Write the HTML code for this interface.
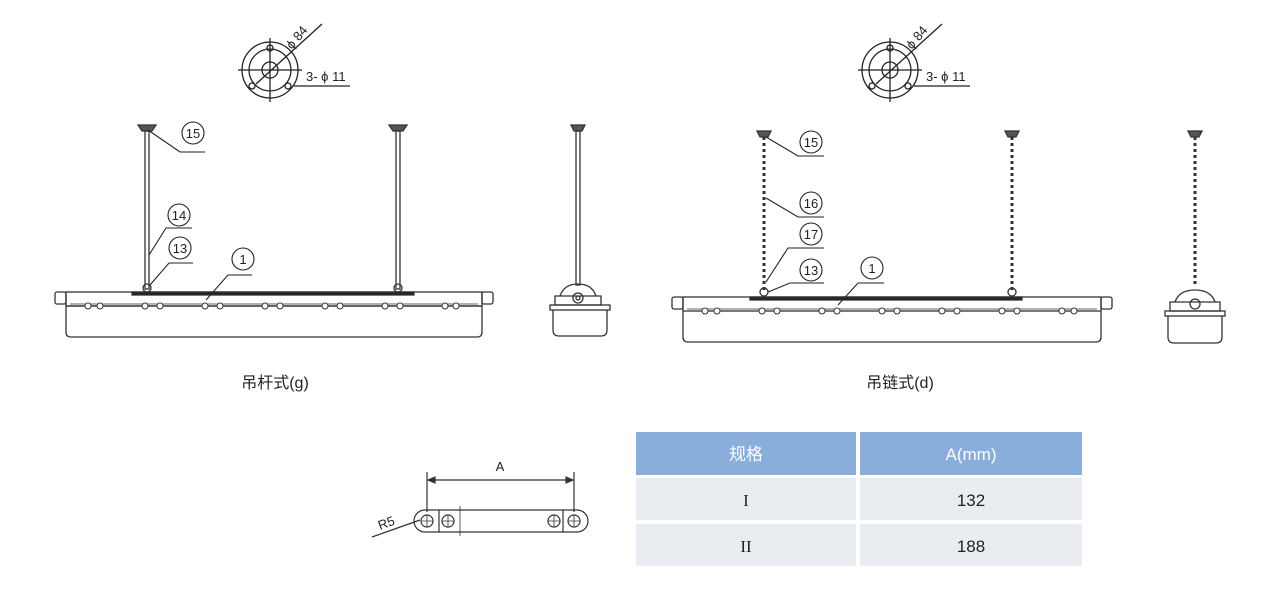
<!DOCTYPE html>
<html><head><meta charset="utf-8"><style>
body{margin:0;background:#fff;width:1280px;height:588px;overflow:hidden;font-family:"Liberation Sans","Noto Sans CJK SC",sans-serif}
</style></head><body>
<svg width="1280" height="588" viewBox="0 0 1280 588" xmlns="http://www.w3.org/2000/svg" font-family="Liberation Sans, Noto Sans CJK SC, sans-serif">
<defs>
<g id="flange" stroke="#222" fill="none" stroke-width="1.3">
  <circle r="28"/><circle r="21"/><circle r="8"/>
  <line x1="-32" y1="0" x2="32" y2="0"/><line x1="0" y1="-32" x2="0" y2="32"/>
  <circle cx="-18" cy="16" r="3"/><circle cx="18" cy="16" r="3"/><circle cx="0" cy="-22" r="3"/>
  <line x1="-14" y1="14" x2="52" y2="-46"/>
  <line x1="24" y1="16" x2="80" y2="16"/>
  <text x="36" y="11" font-size="13" fill="#222" stroke="none">3- ϕ 11</text>
  <text transform="translate(22,-20) rotate(-50)" font-size="13" fill="#222" stroke="none">ϕ 84</text>
</g>
<g id="lbl" stroke="#222" fill="none" stroke-width="1.2">
  <circle r="11"/>
</g>
</defs>

<!-- flanges -->
<use href="#flange" x="270" y="70"/>
<use href="#flange" x="890" y="70"/>

<!-- LEFT FIXTURE -->
<g stroke="#333" fill="none" stroke-width="1.3">
  <path d="M138 125h18l-4 6h-10z" fill="#555"/>
  <rect x="145" y="131" width="4" height="158"/>
  <path d="M389 125h18l-4 6h-10z" fill="#555"/>
  <rect x="396" y="131" width="4" height="158"/>
  <circle cx="147" cy="288" r="4"/><circle cx="398" cy="288" r="4"/>
  <rect x="132" y="292" width="282" height="3" fill="#222"/>
  <rect x="66" y="292" width="416" height="14"/>
  <rect x="55" y="292" width="11" height="12" rx="2"/><rect x="482" y="292" width="11" height="12" rx="2"/>
  <path d="M66 306v26q0 5 5 5h406q5 0 5-5v-26"/>
  <line x1="66" y1="306" x2="482" y2="306"/>
  <line x1="70" y1="304" x2="478" y2="304" stroke-width="0.8"/>
</g>
<g fill="#fff" stroke="#333" stroke-width="1">
  <circle cx="88" cy="306" r="3"/><circle cx="100" cy="306" r="3"/><circle cx="145" cy="306" r="3"/><circle cx="160" cy="306" r="3"/>
  <circle cx="205" cy="306" r="3"/><circle cx="220" cy="306" r="3"/><circle cx="265" cy="306" r="3"/><circle cx="280" cy="306" r="3"/>
  <circle cx="325" cy="306" r="3"/><circle cx="340" cy="306" r="3"/><circle cx="385" cy="306" r="3"/><circle cx="400" cy="306" r="3"/>
  <circle cx="445" cy="306" r="3"/><circle cx="456" cy="306" r="3"/>
</g>
<!-- left labels -->
<g stroke="#222" fill="none" stroke-width="1.1">
  <circle cx="193" cy="133" r="11"/><path d="M148 130L180 152H205"/>
  <circle cx="179" cy="215" r="11"/><path d="M149 255L166 228H192"/>
  <circle cx="180" cy="248" r="11"/><path d="M150 285L169 263H193"/>
  <circle cx="243" cy="259" r="11"/><path d="M206 300L228 275H252"/>
</g>
<g font-size="13" text-anchor="middle" fill="#222">
  <text x="193" y="138">15</text><text x="179" y="220">14</text><text x="180" y="253">13</text><text x="243" y="264">1</text>
</g>
<!-- left side view -->
<g stroke="#333" fill="none" stroke-width="1.3">
  <path d="M571 125h14l-3 6h-8z" fill="#555"/>
  <rect x="576" y="131" width="4" height="154"/>
  <path d="M560 296q4-12 18-12q14 0 18 12"/>
  <path d="M555 296h46v9h-46z"/>
  <rect x="550" y="305" width="60" height="5"/>
  <path d="M553 310v20q0 6 6 6h42q6 0 6-6v-20"/>
  <circle cx="578" cy="298" r="5"/><circle cx="578" cy="298" r="2"/>
</g>
<text x="275" y="388" font-size="16" text-anchor="middle" fill="#222">吊杆式(g)</text>

<!-- RIGHT FIXTURE -->
<g stroke="#333" fill="none" stroke-width="1.3">
  <path d="M757 131h14l-3 6h-8z" fill="#555"/>
  <line x1="764" y1="137" x2="764" y2="290" stroke-dasharray="3,3" stroke-width="3"/>
  <path d="M1005 131h14l-3 6h-8z" fill="#555"/>
  <line x1="1012" y1="137" x2="1012" y2="290" stroke-dasharray="3,3" stroke-width="3"/>
  <circle cx="764" cy="292" r="4"/><circle cx="1012" cy="292" r="4"/>
  <rect x="750" y="297" width="272" height="3" fill="#222"/>
  <rect x="683" y="297" width="418" height="14"/>
  <rect x="672" y="297" width="11" height="12" rx="2"/><rect x="1101" y="297" width="11" height="12" rx="2"/>
  <path d="M683 311v26q0 5 5 5h408q5 0 5-5v-26"/>
  <line x1="687" y1="309" x2="1097" y2="309" stroke-width="0.8"/>
</g>
<g fill="#fff" stroke="#333" stroke-width="1">
  <circle cx="705" cy="311" r="3"/><circle cx="717" cy="311" r="3"/><circle cx="762" cy="311" r="3"/><circle cx="777" cy="311" r="3"/>
  <circle cx="822" cy="311" r="3"/><circle cx="837" cy="311" r="3"/><circle cx="882" cy="311" r="3"/><circle cx="897" cy="311" r="3"/>
  <circle cx="942" cy="311" r="3"/><circle cx="957" cy="311" r="3"/><circle cx="1002" cy="311" r="3"/><circle cx="1017" cy="311" r="3"/>
  <circle cx="1062" cy="311" r="3"/><circle cx="1074" cy="311" r="3"/>
</g>
<g stroke="#222" fill="none" stroke-width="1.1">
  <circle cx="811" cy="142" r="11"/><path d="M766 137L798 156H824"/>
  <circle cx="811" cy="203" r="11"/><path d="M766 198L798 217H824"/>
  <circle cx="811" cy="234" r="11"/><path d="M766 282L788 248H824"/>
  <circle cx="811" cy="270" r="11"/><path d="M768 292L790 283H824"/>
  <circle cx="872" cy="268" r="11"/><path d="M838 305L858 283H884"/>
</g>
<g font-size="13" text-anchor="middle" fill="#222">
  <text x="811" y="147">15</text><text x="811" y="208">16</text><text x="811" y="239">17</text><text x="811" y="275">13</text><text x="872" y="273">1</text>
</g>
<g stroke="#333" fill="none" stroke-width="1.3">
  <path d="M1188 131h14l-3 6h-8z" fill="#555"/>
  <line x1="1195" y1="137" x2="1195" y2="287" stroke-dasharray="3,3" stroke-width="3"/>
  <path d="M1175 302q4-12 20-12q16 0 20 12"/>
  <path d="M1170 302h50v9h-50z"/>
  <rect x="1165" y="311" width="60" height="5"/>
  <path d="M1168 316v21q0 6 6 6h42q6 0 6-6v-21"/>
  <circle cx="1195" cy="304" r="5"/>
</g>
<text x="900" y="388" font-size="16" text-anchor="middle" fill="#222">吊链式(d)</text>

<!-- bracket -->
<g stroke="#333" fill="none" stroke-width="1.2">
  <line x1="427" y1="472" x2="427" y2="512"/><line x1="574" y1="472" x2="574" y2="512"/>
  <line x1="428" y1="480" x2="573" y2="480"/>
  <path d="M428 480l7-3v6zM573 480l-7-3v6z" fill="#333"/>
  <rect x="414" y="510" width="174" height="22" rx="11"/>
  <line x1="439" y1="510" x2="439" y2="532"/><line x1="563" y1="510" x2="563" y2="532"/>
  <line x1="460" y1="506" x2="460" y2="536" stroke-width="0.8"/>
  <circle cx="427" cy="521" r="6"/><circle cx="448" cy="521" r="6"/><circle cx="554" cy="521" r="6"/><circle cx="574" cy="521" r="6"/>
  <path d="M421 521h12M427 515v12M442 521h12M448 515v12M548 521h12M554 515v12M568 521h12M574 515v12" stroke-width="0.8"/>
  <line x1="372" y1="537" x2="420" y2="520"/>
</g>
<text x="500" y="471" font-size="13" text-anchor="middle" fill="#222">A</text>
<text transform="translate(380,530) rotate(-20)" font-size="13" fill="#222">R5</text>

<!-- table -->
<rect x="636" y="432" width="220" height="43" fill="#8aaedc"/>
<rect x="860" y="432" width="222" height="43" fill="#8aaedc"/>
<rect x="636" y="478" width="220" height="42" fill="#e9edf2"/>
<rect x="860" y="478" width="222" height="42" fill="#e9edf2"/>
<rect x="636" y="524" width="220" height="42" fill="#e9edf2"/>
<rect x="860" y="524" width="222" height="42" fill="#e9edf2"/>
<g font-size="17" text-anchor="middle">
  <text x="746" y="460" fill="#fff">规格</text><text x="971" y="460" fill="#fff">A(mm)</text>
  <text x="746" y="506" fill="#222" font-family="Liberation Serif, serif">I</text><text x="971" y="506" fill="#222">132</text>
  <text x="746" y="552" fill="#222" font-family="Liberation Serif, serif">II</text><text x="971" y="552" fill="#222">188</text>
</g>
</svg>
</body></html>
